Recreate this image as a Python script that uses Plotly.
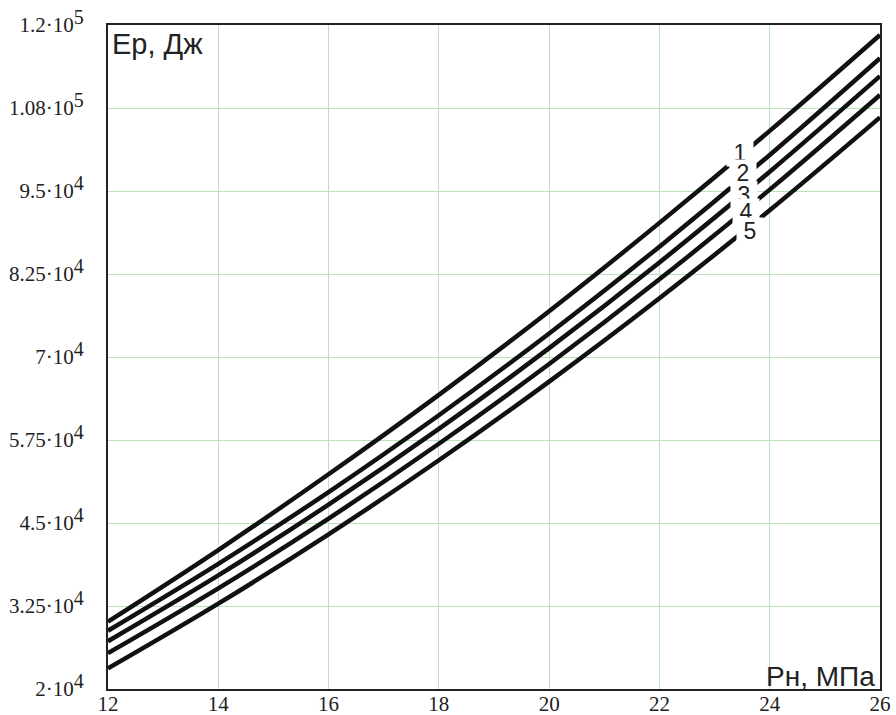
import plotly.graph_objects as go

# ---- data ----
p_n = [12, 14, 16, 18, 20, 22, 24, 26]
curve_1 = [30140, 40930, 52340, 64300, 76900, 90200, 104050, 118500]
curve_2 = [28780, 38850, 49660, 61230, 73550, 86620, 100430, 115000]
curve_3 = [27200, 37110, 47770, 59170, 71330, 84240, 97900, 112300]
curve_4 = [25400, 35160, 45670, 56930, 68940, 81700, 95210, 109470]
curve_5 = [23100, 32850, 43300, 54450, 66300, 78850, 92100, 106090]
curves = [curve_1, curve_2, curve_3, curve_4, curve_5]
curve_names = ["1", "2", "3", "4", "5"]
label_x = [23.46, 23.52, 23.53, 23.57, 23.64]
label_y = [100720, 97710, 94400, 91840, 88980]

x_ticks = [12, 14, 16, 18, 20, 22, 24, 26]
y_ticks = [20000, 32500, 45000, 57500, 70000, 82500, 95000, 107500, 120000]
y_mant = ["2", "3.25", "4.5", "5.75", "7", "8.25", "9.5", "1.08", "1.2"]
y_exp = ["4", "4", "4", "4", "4", "4", "4", "5", "5"]

y_ticktext = [f"{m}·10<sup><span style='font-size:20px'>{e}</span></sup>" for m, e in zip(y_mant, y_exp)]

fig = go.Figure()
for ys, nm in zip(curves, curve_names):
    fig.add_trace(go.Scatter(x=p_n, y=ys, mode="lines", name=nm,
                             line=dict(color="#111111", width=4.5, shape="spline"),
                             showlegend=False, hoverinfo="skip"))

for nm, lx, ly in zip(curve_names, label_x, label_y):
    fig.add_annotation(x=lx, y=ly, text="\u00a0" + nm + "\u00a0", showarrow=False,
                       font=dict(family="Liberation Sans", size=23, color="#222222"),
                       bgcolor="white", borderpad=0)

fig.add_annotation(xref="paper", yref="paper", x=0, y=1, xanchor="left", yanchor="top",
                   xshift=2, yshift=-1, text="Ер, Дж", showarrow=False,
                   font=dict(family="Liberation Sans", size=29, color="#222222"))
fig.add_annotation(xref="paper", yref="paper", x=1, y=0, xanchor="right", yanchor="bottom",
                   xshift=-3, yshift=-5, text="Рн, МПа", showarrow=False,
                   font=dict(family="Liberation Sans", size=28, color="#222222"))

axis_common = dict(showline=True, linecolor="#222222", linewidth=2, mirror=True,
                   showgrid=True, gridcolor="#b8e2b8", gridwidth=1, zeroline=False,
                   automargin=False, ticks="",
                   tickfont=dict(family="Liberation Serif", size=21, color="#222222"))

fig.update_xaxes(range=[12, 26], tickmode="array", tickvals=x_ticks,
                 ticktext=[str(v) for v in x_ticks], ticklabelstandoff=-5, **axis_common)
fig.update_yaxes(range=[20000, 120000], tickmode="array", tickvals=y_ticks,
                 ticktext=y_ticktext, ticklabelstandoff=18, **axis_common)

fig.update_layout(width=896, height=715, margin=dict(l=108, r=16, t=25, b=26),
                  paper_bgcolor="white", plot_bgcolor="white")

fig.write_html("out.html")
